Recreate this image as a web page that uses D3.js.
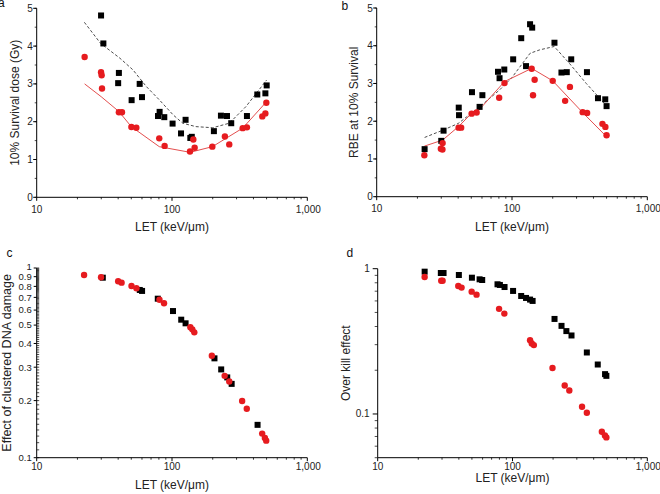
<!DOCTYPE html>
<html><head><meta charset="utf-8">
<script src="https://cdn.jsdelivr.net/npm/d3@7"></script>
<style>body{margin:0;background:#fff}svg{display:block}</style>
</head><body><svg id="c" width="660" height="494"></svg>
<script>
// ---------- data ----------
const xTickValues = [10, 100, 1000];
// Panel a: 10% survival dose (Gy)
const aBlackLET = [29.9, 31.1, 40.5, 40, 50.3, 57.7, 60, 78.8, 81, 87.7, 101, 116.6, 126, 136.6, 140, 204, 230, 255, 274, 358, 427, 490, 501];
const aBlackVal = [4.81, 4.07, 3.29, 3.02, 2.57, 3.0, 2.65, 2.15, 2.26, 2.12, 1.95, 1.69, 2.05, 1.57, 1.60, 1.75, 2.16, 2.15, 1.96, 2.15, 2.72, 2.75, 2.96];
const aRedLET = [22.6, 29.9, 30.2, 30.4, 40.5, 42.7, 50.1, 54.5, 80.5, 88.2, 135.8, 143.8, 147, 198.6, 246, 265, 333, 358, 465, 490, 498];
const aRedVal = [3.71, 3.31, 3.23, 2.88, 2.25, 2.25, 1.86, 1.84, 1.56, 1.36, 1.21, 1.53, 1.31, 1.34, 1.61, 1.40, 1.83, 1.85, 2.14, 2.22, 2.50];
const aBlackFitLET = [22.5, 29.7, 41.2, 51.5, 64.6, 81, 102, 120, 150, 200, 265, 352, 500];
const aBlackFitVal = [4.63, 4.07, 3.68, 3.37, 2.93, 2.57, 2.18, 1.96, 1.87, 1.84, 1.96, 2.40, 3.10];
const aRedFitLET = [22.6, 30, 40.5, 50, 80.5, 136, 199, 333, 500];
const aRedFitVal = [3.0, 2.66, 2.27, 1.87, 1.34, 1.19, 1.34, 1.83, 2.53];
const aYTicks = [0, 1, 2, 3, 4, 5];
// Panel b: RBE at 10% survival
const bBlackLET = [22.6, 30, 31.2, 40.4, 40.6, 50.6, 57.6, 60.4, 78.8, 80.9, 87.7, 102, 117, 127, 136, 141, 206, 232, 254, 274, 358, 432, 489, 500];
const bBlackVal = [1.26, 1.48, 1.75, 2.36, 2.16, 2.77, 2.38, 2.69, 3.31, 3.14, 3.37, 3.64, 4.20, 3.46, 4.57, 4.48, 4.08, 3.29, 3.30, 3.64, 3.30, 2.61, 2.58, 2.40];
const bRedLET = [22.5, 29.8, 30.6, 30.7, 40.3, 42.1, 50.3, 54.8, 80.4, 88.0, 139.8, 143, 147, 200, 247, 268, 333, 359, 466, 490, 500];
const bRedVal = [1.10, 1.27, 1.25, 1.42, 1.83, 1.83, 2.20, 2.23, 2.62, 3.01, 3.39, 2.69, 3.10, 3.07, 2.54, 2.91, 2.24, 2.22, 1.93, 1.85, 1.63];
const bBlackFitLET = [22.6, 31.2, 40, 57.6, 81, 100, 136, 160, 205, 266, 354, 480];
const bBlackFitVal = [1.57, 1.77, 1.94, 2.38, 2.83, 3.16, 3.80, 3.89, 3.98, 3.53, 3.00, 2.48];
const bRedFitLET = [22.5, 30.7, 40.3, 50.3, 54.8, 88, 139.8, 200, 333, 500];
const bRedFitVal = [1.34, 1.50, 1.86, 2.21, 2.23, 3.05, 3.40, 3.07, 2.23, 1.59];
const bYTicks = [0, 1, 2, 3, 4, 5];
// Panel c: effect of clustered DNA damage
const cBlackLET = [30.8, 57.8, 60.1, 78.5, 101.7, 117, 126, 206, 231, 256, 276, 429];
const cBlackVal = [0.889, 0.766, 0.757, 0.689, 0.593, 0.534, 0.511, 0.334, 0.292, 0.265, 0.245, 0.149];
const cRedLET = [22.4, 29.9, 40.0, 42.4, 50.2, 54.6, 80.8, 87.3, 136.7, 141.3, 146.2, 197, 245, 265, 330, 357, 464, 486, 497];
const cRedVal = [0.919, 0.893, 0.851, 0.837, 0.804, 0.782, 0.680, 0.652, 0.487, 0.475, 0.458, 0.345, 0.270, 0.252, 0.199, 0.181, 0.134, 0.127, 0.123];
const cYTicks = [0.1, 0.2, 0.3, 0.4, 0.5, 0.6, 0.7, 0.8, 0.9, 1];
// Panel d: over kill effect
const dBlackLET = [22.3, 29.4, 30.8, 40.0, 50.0, 57.0, 59.6, 77.4, 80.6, 87.3, 101, 116, 126, 135, 141, 205, 231, 251, 274, 356, 429, 486, 497];
const dBlackVal = [0.954, 0.934, 0.934, 0.905, 0.867, 0.845, 0.836, 0.781, 0.773, 0.748, 0.703, 0.649, 0.629, 0.613, 0.600, 0.451, 0.404, 0.372, 0.347, 0.265, 0.219, 0.188, 0.183];
const dRedLET = [22.3, 29.6, 30.3, 39.6, 41.9, 49.8, 54.1, 79.5, 87.0, 135, 139, 144, 198, 244, 264, 328, 356, 460, 485, 497];
const dRedVal = [0.877, 0.827, 0.827, 0.760, 0.741, 0.695, 0.663, 0.529, 0.491, 0.322, 0.306, 0.298, 0.207, 0.157, 0.145, 0.112, 0.102, 0.0755, 0.0712, 0.0690];
const dYTicks = [0.1, 1];

// ---------- drawing ----------
const FONT = "'Liberation Sans', Arial, Helvetica, sans-serif";
const RED = "#e61b1f";
const svg = d3.select("#c");

function zip(a, b) { return a.map((v, i) => [v, b[i]]); }

function panel(o) {
  const g = svg.append("g");
  const x = d3.scaleLog().domain([10, 1000]).range([o.xl, o.xr]);
  const y = (o.log ? d3.scaleLog() : d3.scaleLinear()).domain(o.yDomain).range([o.yb, o.yt]);
  // x axis
  g.append("line").attr("x1", o.xl).attr("x2", o.xr).attr("y1", o.yb).attr("y2", o.yb)
    .attr("stroke", "#000").attr("stroke-width", 1);
  const xMinor = d3.range(2, 10).flatMap(k => [k * 10, k * 100]);
  g.selectAll(null).data(xMinor).join("line")
    .attr("x1", d => x(d)).attr("x2", d => x(d)).attr("y1", o.yb).attr("y2", o.yb + 2)
    .attr("stroke", "#000").attr("stroke-width", 0.8);
  g.selectAll(null).data(xTickValues).join("line")
    .attr("x1", d => x(d)).attr("x2", d => x(d)).attr("y1", o.yb).attr("y2", o.yb + 3.5)
    .attr("stroke", "#000").attr("stroke-width", 1);
  g.selectAll(null).data(xTickValues).join("text")
    .attr("x", d => x(d) + (d === 1000 ? 1 : 0)).attr("y", o.yb + o.xLabOff)
    .attr("text-anchor", "middle").attr("font-size", 10).attr("font-family", FONT).attr("fill", "#222")
    .text(d => d3.format(",")(d));
  g.append("text").attr("x", (o.xl + o.xr) / 2).attr("y", o.xTitleY)
    .attr("text-anchor", "middle").attr("font-size", 12).attr("font-family", FONT).attr("fill", "#222")
    .text("LET (keV/μm)");
  // y axis
  g.append("line").attr("x1", o.xl).attr("x2", o.xl).attr("y1", o.yb).attr("y2", o.yt)
    .attr("stroke", "#000").attr("stroke-width", 1);
  g.selectAll(null).data(o.yMinor).join("line")
    .attr("x1", o.xl + o.minorDx0).attr("x2", o.xl + o.minorDx1).attr("y1", d => y(d)).attr("y2", d => y(d))
    .attr("stroke", "#000").attr("stroke-width", 0.7);
  g.selectAll(null).data(o.yTicks).join("line")
    .attr("x1", o.xl - o.majorLen).attr("x2", o.xl).attr("y1", d => y(d)).attr("y2", d => y(d))
    .attr("stroke", "#000").attr("stroke-width", 1);
  g.selectAll(null).data(o.yTicks).join("text")
    .attr("x", o.xl - o.yLabGap).attr("y", d => y(d) + (o.labNudge ? o.labNudge(d) : 0)).attr("dy", "0.35em")
    .attr("text-anchor", "end").attr("font-size", o.yLabSize || 10).attr("font-family", FONT).attr("fill", "#222")
    .text(d => String(d));
  g.append("text").attr("transform", `translate(${o.yTitleX},${(o.yb + o.yt) / 2}) rotate(-90)`)
    .attr("text-anchor", "middle").attr("font-size", o.yTitleSize || 12).attr("font-family", FONT).attr("fill", "#222")
    .text(o.yTitle);
  // panel letter
  g.append("text").attr("x", o.letX).attr("y", o.letY).attr("font-size", 12).attr("font-family", FONT)
    .attr("fill", "#111").text(o.letter);

  const line = d3.line().x(d => x(d[0])).y(d => y(d[1]));
  if (o.blackFit) g.append("path").attr("d", line(o.blackFit)).attr("fill", "none")
    .attr("stroke", "#3a3a3a").attr("stroke-width", 0.9).attr("stroke-dasharray", "3,2");
  if (o.redFit) g.append("path").attr("d", line(o.redFit)).attr("fill", "none")
    .attr("stroke", "#e03a3a").attr("stroke-width", 0.9);
  const s = 6;
  g.selectAll(null).data(o.black).join("rect")
    .attr("x", d => x(d[0]) - s / 2).attr("y", d => y(d[1]) - s / 2).attr("width", s).attr("height", s)
    .attr("fill", "#000");
  g.selectAll(null).data(o.red).join("circle")
    .attr("cx", d => x(d[0])).attr("cy", d => y(d[1])).attr("r", 3.2).attr("fill", RED);
}

const linMinor = d3.range(0, 5.01, 0.5);

panel({
  letter: "a", letX: -2, letY: 7,
  xl: 36.7, xr: 307.3, yb: 197.3, yt: 8.3, yDomain: [0, 5],
  yTicks: aYTicks, yMinor: linMinor, minorDx0: -2, minorDx1: 0, majorLen: 3.5, yLabGap: 4,
  xLabOff: 15.5, xTitleY: 230.5, yTitleX: 19, yTitle: "10% Survival dose (Gy)",
  black: zip(aBlackLET, aBlackVal), red: zip(aRedLET, aRedVal),
  blackFit: zip(aBlackFitLET, aBlackFitVal), redFit: zip(aRedFitLET, aRedFitVal)
});
panel({
  letter: "b", letX: 341.5, letY: 10,
  xl: 376.7, xr: 647.3, yb: 196.7, yt: 8, yDomain: [0, 5],
  yTicks: bYTicks, yMinor: linMinor, minorDx0: -2, minorDx1: 0, majorLen: 3.5, yLabGap: 4,
  xLabOff: 15.5, xTitleY: 230.5, yTitleX: 357.5, yTitle: "RBE at 10% Survival",
  black: zip(bBlackLET, bBlackVal), red: zip(bRedLET, bRedVal),
  blackFit: zip(bBlackFitLET, bBlackFitVal), redFit: zip(bRedFitLET, bRedFitVal)
});
panel({
  letter: "c", letX: 6.5, letY: 256.5, log: true,
  xl: 36.7, xr: 307.3, yb: 457.7, yt: 268, yDomain: [0.1, 1],
  yTicks: cYTicks, yMinor: d3.range(10, 101, 1).map(v => v / 100), minorDx0: 0, minorDx1: 2.5, majorLen: 3, yLabGap: 5,
  yLabSize: 9.5, labNudge: d => (d === 1 ? -1.5 : 0),
  xLabOff: 12.5, xTitleY: 488.5, yTitleX: 10.5, yTitleSize: 12.5, yTitle: "Effect of clustered DNA damage",
  black: zip(cBlackLET, cBlackVal), red: zip(cRedLET, cRedVal)
});
panel({
  letter: "d", letX: 346.5, letY: 257, log: true,
  xl: 377.7, xr: 647.3, yb: 457.7, yt: 268.7, yDomain: [0.05, 1],
  yTicks: dYTicks, yMinor: [0.05, 0.06, 0.07, 0.08, 0.09, 0.2, 0.3, 0.4, 0.5, 0.6, 0.7, 0.8, 0.9], minorDx0: -3, minorDx1: 0, majorLen: 5, yLabGap: 8,
  xLabOff: 12.5, xTitleY: 482, yTitleX: 349.5, yTitle: "Over kill effect",
  black: zip(dBlackLET, dBlackVal), red: zip(dRedLET, dRedVal)
});
</script></body></html>
